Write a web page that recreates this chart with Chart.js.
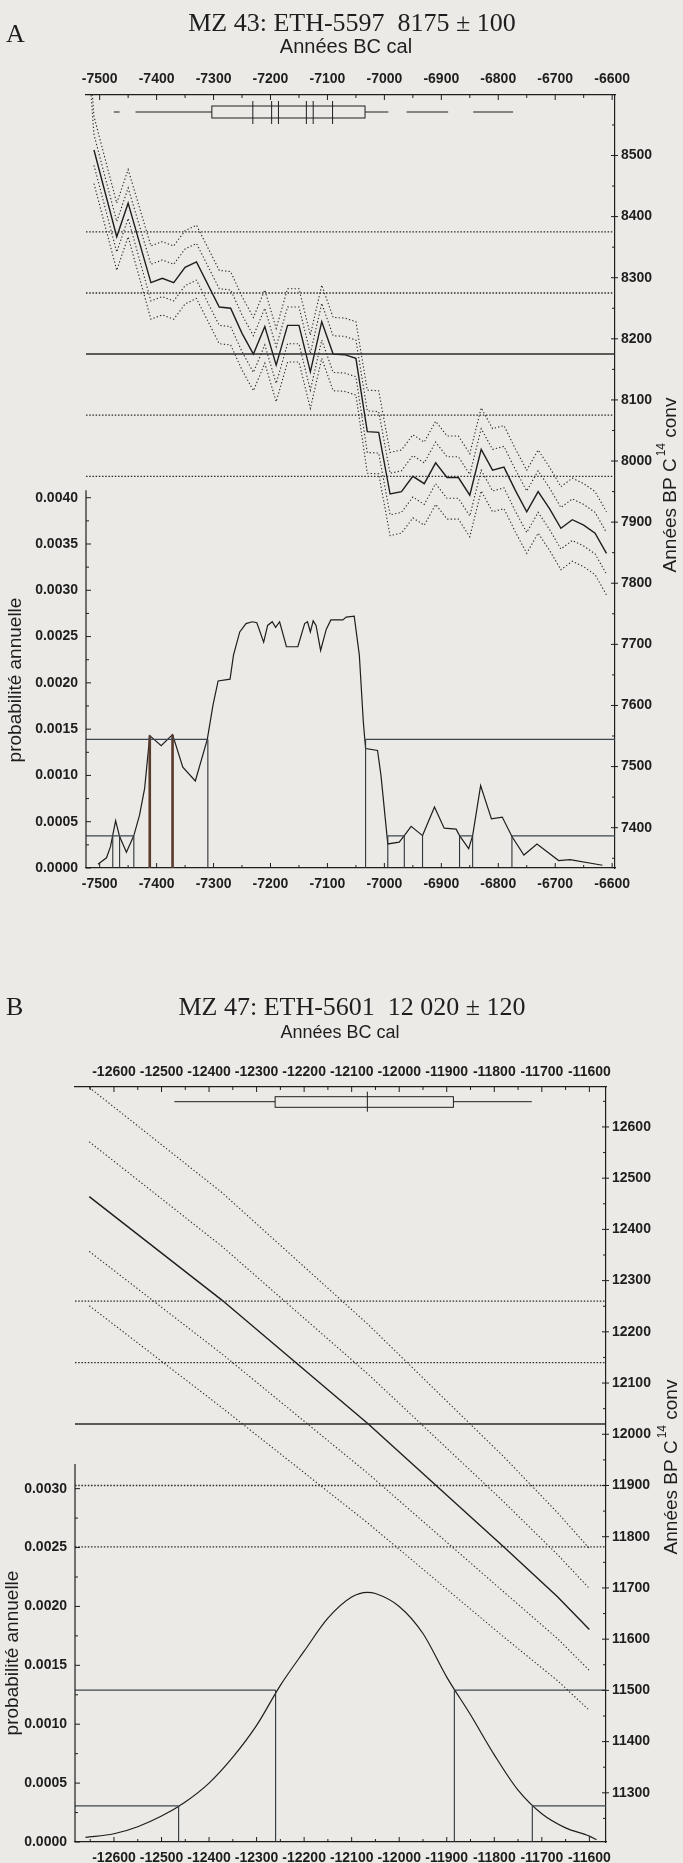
<!DOCTYPE html>
<html lang="fr">
<head>
<meta charset="utf-8">
<title>MZ 43 / MZ 47 - calibration</title>
<script src="https://cdn.jsdelivr.net/npm/chart.js@4.4.1/dist/chart.umd.min.js"></script>
<style>
  html, body { margin: 0; padding: 0; background: #ebeae6; }
  body { width: 683px; height: 1863px; position: relative; overflow: hidden; }
  canvas { position: absolute; left: 0; }
  #chartA { top: 0; }
  #chartB { top: 985px; }
</style>
</head>
<body>
<canvas id="chartA" width="683" height="900"></canvas>
<canvas id="chartB" width="683" height="878"></canvas>
<script>
// ---------- Panel A : MZ 43, ETH-5597, 8175 ± 100 ----------
const xRangeA = [-7524, -6595];
const bpRangeA = [7334, 8599];
const probMaxA = 0.00835;

// calibration curve (cal BC -> BP) and its dotted envelopes
const calA = [-7510, -7470, -7450, -7410, -7390, -7370, -7350, -7330, -7290, -7270, -7250, -7230, -7210, -7190, -7170, -7150, -7130, -7110, -7090, -7070, -7050, -7030, -7010, -6990, -6970, -6950, -6930, -6910, -6890, -6870, -6850, -6830, -6810, -6790, -6770, -6750, -6730, -6710, -6690, -6670, -6650, -6630, -6610];
const bpA = [8509, 8367, 8422, 8292, 8299, 8292, 8317, 8326, 8252, 8250, 8209, 8175, 8220, 8157, 8222, 8222, 8146, 8228, 8175, 8174, 8168, 8048, 8047, 7946, 7950, 7975, 7963, 7997, 7973, 7973, 7944, 8019, 7985, 7990, 7952, 7917, 7950, 7922, 7890, 7904, 7895, 7882, 7849];
const bpAHi2 = [8564, 8422, 8477, 8352, 8359, 8352, 8377, 8386, 8312, 8310, 8269, 8235, 8280, 8217, 8282, 8282, 8206, 8288, 8235, 8234, 8228, 8116, 8115, 8014, 8018, 8043, 8031, 8065, 8041, 8041, 8012, 8087, 8053, 8058, 8020, 7985, 8018, 7990, 7958, 7972, 7963, 7950, 7917];
const bpAHi1 = [8534, 8392, 8447, 8322, 8329, 8322, 8347, 8356, 8282, 8280, 8239, 8205, 8250, 8187, 8252, 8252, 8176, 8258, 8205, 8204, 8198, 8082, 8081, 7980, 7984, 8009, 7997, 8031, 8007, 8007, 7978, 8053, 8019, 8024, 7986, 7951, 7984, 7956, 7924, 7938, 7929, 7916, 7883];
const bpALo1 = [8484, 8342, 8397, 8262, 8269, 8262, 8287, 8296, 8222, 8220, 8179, 8145, 8190, 8127, 8192, 8192, 8116, 8198, 8145, 8144, 8138, 8014, 8013, 7912, 7916, 7941, 7929, 7963, 7939, 7939, 7910, 7985, 7951, 7956, 7918, 7883, 7916, 7888, 7856, 7870, 7861, 7848, 7815];
const bpALo2 = [8454, 8312, 8367, 8232, 8239, 8232, 8257, 8266, 8192, 8190, 8149, 8115, 8160, 8097, 8162, 8162, 8086, 8168, 8115, 8114, 8108, 7980, 7979, 7878, 7882, 7907, 7895, 7929, 7905, 7905, 7876, 7951, 7917, 7922, 7884, 7849, 7882, 7854, 7822, 7836, 7827, 7814, 7781];

// the two upper envelopes come in from above the frame at the left end
const calAHiStart = -7516;
const bpAHi2Start = 8640;
const bpAHi1Start = 8610;

// measured date and its 1 / 2 sigma lines
const dateA = 8175;
const sigmaLinesA = [7975, 8075, 8275, 8375];

// annual probability
const probCalA = [-7503, -7488, -7481, -7472, -7465, -7453, -7440, -7430, -7421, -7412, -7392, -7372, -7354, -7332, -7311, -7301, -7292, -7271, -7265, -7254, -7243, -7232, -7224, -7212, -7205, -7197, -7191, -7184, -7172, -7152, -7140, -7135, -7130, -7125, -7120, -7112, -7102, -7094, -7073, -7067, -7053, -7044, -7037, -7033, -7012, -7006, -6994, -6974, -6965, -6953, -6933, -6912, -6895, -6874, -6868, -6852, -6845, -6831, -6812, -6793, -6776, -6755, -6732, -6694, -6674, -6617];
const probA = [0.00004, 0.00011, 0.00023, 0.00051, 0.00034, 0.00017, 0.00035, 0.00057, 0.00086, 0.00143, 0.00132, 0.00144, 0.00109, 0.00094, 0.00139, 0.00176, 0.00202, 0.00204, 0.0023, 0.00255, 0.00264, 0.00266, 0.00265, 0.00244, 0.00262, 0.00266, 0.0026, 0.00266, 0.00239, 0.00239, 0.00264, 0.00266, 0.00255, 0.00267, 0.00262, 0.00235, 0.00258, 0.00268, 0.00268, 0.00271, 0.00272, 0.0023, 0.00158, 0.00129, 0.00127, 0.001, 0.00026, 0.00028, 0.00035, 0.00045, 0.00035, 0.00066, 0.00043, 0.00042, 0.00035, 0.00021, 0.00035, 0.00089, 0.00053, 0.00055, 0.00034, 0.00014, 0.00026, 0.00008, 0.00009, 0.00003];

// confidence levels, the stretches below them, and the cut lines
const level1A = 0.00139;
const level2A = 0.000346;
const below1A = [[-7524, -7310], [-7033, -6595]];
const below2A = [[-7524, -7440], [-6994, -6965], [-6868, -6845], [-6776, -6595]];
const cutsA = [-7477, -7465, -7440, -7310, -7033, -6994, -6965, -6933, -6868, -6845, -6776];
const cutTopsA = [0.000346, 0.000346, 0.000346, 0.00139, 0.00139, 0.000346, 0.000346, 0.000346, 0.000346, 0.000346, 0.000346];
const peakCutsA = [-7412, -7372];
const peakTopsA = [0.00143, 0.00144];

// range bars at the top
const rangesA = [[-7475, -7465], [-7437, -6993], [-6961, -6888], [-6844, -6774]];
const boxA = [-7303, -7034];
const interceptsA = [-7231, -7198, -7186, -7137, -7125, -7091];

// ---------- Panel B : MZ 47, ETH-5601, 12 020 ± 120 ----------
const xRangeB = [-12682, -11565];
const bpRangeB = [11204, 12678];
const probMaxB = 0.00641;

const calB = [-12652, -12373, -12065, -11781, -11667, -11600];
const bpB = [12464, 12262, 12020, 11781, 11683, 11619];
const bpBHi2 = [12677, 12472, 12214, 11957, 11847, 11777];
const bpBHi1 = [12571, 12367, 12117, 11869, 11765, 11699];
const bpBLo1 = [12357, 12157, 11923, 11693, 11601, 11539];
const bpBLo2 = [12251, 12052, 11826, 11605, 11519, 11461];

const dateB = 12020;
const sigmaLinesB = [11780, 11900, 12140, 12260];

const probCalB = [-12660, -12600, -12550, -12500, -12450, -12400, -12350, -12300, -12250, -12200, -12150, -12100, -12067, -12050, -12000, -11950, -11900, -11850, -11800, -11750, -11700, -11650, -11600, -11585];
const probB = [0.00004, 0.00007, 0.00013, 0.00022, 0.00034, 0.0005, 0.00072, 0.00099, 0.00133, 0.00162, 0.0019, 0.00208, 0.00212, 0.00211, 0.002, 0.00177, 0.0014, 0.00108, 0.00074, 0.00044, 0.00024, 0.00012, 0.00005, 0.00002];

const level1B = 0.00129;
const level2B = 0.000306;
const below1B = [[-12682, -12260], [-11884, -11565]];
const below2B = [[-12682, -12464], [-11720, -11565]];
const cutsB = [-12464, -12260, -11884, -11720];
const cutTopsB = [0.000306, 0.00129, 0.00129, 0.000306];

const rangesB = [[-12473, -11721]];
const boxB = [-12261, -11886];
const interceptsB = [-12067];

// ---------- drawing ----------
const ink = '#1e1e1e';
const sans = '"Liberation Sans", Arial, sans-serif';
const serif = '"Liberation Serif", "Times New Roman", serif';
Chart.defaults.font.family = sans;
Chart.defaults.color = ink;

const pts = (xs, ys) => xs.map((x, i) => ({ x, y: ys[i] }));
const isStep = (v, st) => Math.abs(v / st - Math.round(v / st)) < 1e-6;

function stretches(pairs, level) {
  const out = [];
  pairs.forEach(([a, b]) => out.push({ x: a, y: level }, { x: b, y: level }, { x: b, y: null }));
  return out;
}
function cuts(xs, tops) {
  const out = [];
  xs.forEach((x, i) => out.push({ x, y: 0 }, { x, y: tops[i] }, { x, y: null }));
  return out;
}
function line(data, yAxisID, style) {
  return Object.assign({
    data, yAxisID, xAxisID: 'x', borderColor: ink, borderWidth: 1.2,
    pointRadius: 0, fill: false, tension: 0, spanGaps: false
  }, style);
}

const dotted = { borderDash: [1.3, 2.2], borderWidth: 1.1, borderColor: '#2a2a2a' };

// inward tick marks, partial probability axis, range bars and all the text
const decor = {
  id: 'decor',
  afterDraw(chart, args, o) {
    const { ctx, chartArea: a, scales: s } = chart;
    const mark = (x1, y1, x2, y2) => { ctx.beginPath(); ctx.moveTo(x1, y1); ctx.lineTo(x2, y2); ctx.stroke(); };
    ctx.save();
    ctx.strokeStyle = ink;
    ctx.lineWidth = 1;

    s.x.ticks.forEach(t => {
      if (t.value % 50 !== 0) return;
      const px = s.x.getPixelForValue(t.value);
      const len = t.value % 100 === 0 ? 5 : 3;
      mark(px, a.bottom, px, a.bottom - len);
      mark(px, a.top, px, a.top + len);
    });
    s.y.ticks.forEach(t => {
      if (t.value % 50 !== 0) return;
      const py = s.y.getPixelForValue(t.value);
      const major = t.value % 100 === 0;
      mark(a.right - (major ? 4 : 3), py, a.right + (major ? 3 : 0), py);
    });

    ctx.lineWidth = 1.2;
    mark(a.left, s.yP.getPixelForValue(0), a.left, s.yP.getPixelForValue(o.probTop));
    ctx.lineWidth = 1;
    s.yP.ticks.forEach(t => {
      if (t.value > o.probTop || !isStep(t.value, 0.00025)) return;
      const py = s.yP.getPixelForValue(t.value);
      mark(a.left, py, a.left + (isStep(t.value, 0.0005) ? 5 : 3), py);
    });

    // range bars
    const b = o.bars;
    o.ranges.forEach(([l, r]) => mark(s.x.getPixelForValue(l), a.top + b.w, s.x.getPixelForValue(r), a.top + b.w));
    const L = s.x.getPixelForValue(o.box[0]);
    const R = s.x.getPixelForValue(o.box[1]);
    ctx.fillStyle = '#ebeae6';
    ctx.fillRect(L, a.top + b.b0, R - L, b.b1 - b.b0);
    ctx.strokeRect(L, a.top + b.b0, R - L, b.b1 - b.b0);
    o.intercepts.forEach(v => {
      const px = s.x.getPixelForValue(v);
      mark(px, a.top + b.m0, px, a.top + b.m1);
    });

    // text
    const t = o.text;
    ctx.fillStyle = ink;
    ctx.textBaseline = 'alphabetic';
    ctx.font = '26px ' + serif;
    ctx.textAlign = 'left';
    ctx.fillText(t.letter, t.letterX, t.letterY);
    ctx.textAlign = 'center';
    ctx.fillText(t.heading, t.headX, t.headY);

    ctx.font = t.calSize + 'px ' + sans;
    ctx.textBaseline = 'middle';
    ctx.fillText('Années BC cal', t.calX, t.calY);

    ctx.save();
    ctx.translate(t.probX, t.probY);
    ctx.rotate(-Math.PI / 2);
    ctx.font = '19px ' + sans;
    ctx.fillText('probabilité annuelle', 0, 0);
    ctx.restore();

    ctx.save();
    ctx.translate(t.bpX, t.bpY);
    ctx.rotate(-Math.PI / 2);
    ctx.textAlign = 'left';
    const big = '19px ' + sans, small = '12px ' + sans;
    ctx.font = big;
    const w1 = ctx.measureText('Années BP C').width;
    const w3 = ctx.measureText(' conv').width;
    ctx.font = small;
    const w2 = ctx.measureText('14').width + 2;
    const x0 = -(w1 + w2 + w3) / 2;
    ctx.font = big;
    ctx.fillText('Années BP C', x0, 0);
    ctx.font = small;
    ctx.fillText('14', x0 + w1 + 2, -9);
    ctx.font = big;
    ctx.fillText(' conv', x0 + w1 + w2, 0);
    ctx.restore();

    ctx.restore();
  }
};

function panel(id, d, L) {
  const edge = d.xRange;
  const refs = d.sigmaLines.map(v => line([{ x: edge[0], y: v }, { x: edge[1], y: v }], 'y',
    { borderDash: [1.5, 1.7], borderWidth: 1.3, borderColor: '#2a2a2a' }));
  refs.push(line([{ x: edge[0], y: d.date }, { x: edge[1], y: d.date }], 'y', { borderWidth: 1.5, borderColor: '#2a2a2a' }));

  const hi2 = pts(d.cal, d.hi2), hi1 = pts(d.cal, d.hi1);
  if (d.hiStart) {
    hi2.unshift({ x: d.hiStart.x, y: d.hiStart.y2 });
    hi1.unshift({ x: d.hiStart.x, y: d.hiStart.y1 });
  }

  const datasets = refs.concat([
    line(hi2, 'y', dotted),
    line(hi1, 'y', dotted),
    line(pts(d.cal, d.lo1), 'y', dotted),
    line(pts(d.cal, d.lo2), 'y', dotted),
    line(pts(d.cal, d.bp), 'y', { borderWidth: 1.4 }),
    line(stretches(d.below1, d.level1), 'yP', { borderColor: '#3c4650', borderWidth: 1.3 }),
    line(stretches(d.below2, d.level2), 'yP', { borderColor: '#3c4650', borderWidth: 1.3 }),
    line(cuts(d.cuts, d.cutTops), 'yP', { borderColor: '#2f3438', borderWidth: 1.1 }),
    line(cuts(d.peakCuts, d.peakTops), 'yP', { borderColor: '#5a3a2b', borderWidth: 2.6 }),
    line(pts(d.probCal, d.prob), 'yP', d.smooth ? { borderWidth: 1.2, cubicInterpolationMode: 'monotone' } : { borderWidth: 1.2 })
  ]);

  const tickFont = { size: 14, weight: 'bold', family: sans };
  const calTicks = {
    stepSize: 50, includeBounds: false, autoSkip: false, maxRotation: 0, minRotation: 0,
    font: tickFont, color: ink,
    callback: v => (v % 100 === 0 ? String(v) : '')
  };
  const bare = { display: false, drawTicks: false };

  new Chart(document.getElementById(id), {
    type: 'line',
    data: { datasets },
    plugins: [decor],
    options: {
      responsive: false,
      animation: false,
      events: [],
      layout: { autoPadding: false, padding: 0 },
      plugins: {
        legend: { display: false },
        tooltip: { enabled: false },
        decor: {
          probTop: d.probTop,
          ranges: d.ranges, box: d.box, intercepts: d.intercepts,
          bars: L.bars, text: L.text
        }
      },
      scales: {
        x: {
          type: 'linear', position: 'bottom', min: edge[0], max: edge[1],
          ticks: Object.assign({ padding: L.padBottom }, calTicks),
          grid: bare, border: { display: true, color: ink, width: 1.2 },
          afterFit: s => { s.height = L.bottom; }
        },
        x2: {
          type: 'linear', position: 'top', min: edge[0], max: edge[1],
          ticks: Object.assign({ padding: L.padTop }, calTicks),
          grid: bare, border: { display: true, color: ink, width: 1.2 },
          afterFit: s => { s.height = L.top; }
        },
        y: {
          type: 'linear', position: 'right', min: d.bpRange[0], max: d.bpRange[1],
          ticks: {
            stepSize: 50, includeBounds: false, autoSkip: false, padding: 6, font: tickFont, color: ink,
            callback: v => (v % 100 === 0 ? String(v) : '')
          },
          grid: bare, border: { display: true, color: ink, width: 1.2 },
          afterFit: s => { s.width = L.right; }
        },
        yP: {
          type: 'linear', position: 'left', min: 0, max: d.probMax,
          ticks: {
            stepSize: 0.00025, includeBounds: false, autoSkip: false, padding: L.padLeft, font: tickFont, color: ink,
            callback: v => (v <= d.probLabelTop + 1e-9 && isStep(v, 0.0005) ? v.toFixed(4) : '')
          },
          grid: bare, border: { display: false },
          afterFit: s => { s.width = L.left; }
        }
      }
    }
  });
}

panel('chartA', {
  xRange: xRangeA, bpRange: bpRangeA, probMax: probMaxA, probTop: 0.00408, probLabelTop: 0.004,
  cal: calA, bp: bpA, hi2: bpAHi2, hi1: bpAHi1, lo1: bpALo1, lo2: bpALo2,
  hiStart: { x: calAHiStart, y2: bpAHi2Start, y1: bpAHi1Start },
  date: dateA, sigmaLines: sigmaLinesA,
  probCal: probCalA, prob: probA,
  level1: level1A, level2: level2A, below1: below1A, below2: below2A,
  cuts: cutsA, cutTops: cutTopsA, peakCuts: peakCutsA, peakTops: peakTopsA,
  ranges: rangesA, box: boxA, intercepts: interceptsA
}, {
  left: 86, right: 68, top: 95, bottom: 32,
  padTop: 7, padBottom: 8, padLeft: 8,
  bars: { w: 17, b0: 11, b1: 23, m0: 6, m1: 29 },
  text: {
    letter: 'A', letterX: 6, letterY: 42,
    heading: 'MZ 43: ETH-5597  8175 ± 100', headX: 352, headY: 31,
    calSize: 20, calX: 346, calY: 47, probX: 16, probY: 680, bpX: 671, bpY: 485
  }
});

panel('chartB', {
  xRange: xRangeB, bpRange: bpRangeB, probMax: probMaxB, probTop: 0.00321, probLabelTop: 0.003,
  cal: calB, bp: bpB, hi2: bpBHi2, hi1: bpBHi1, lo1: bpBLo1, lo2: bpBLo2,
  date: dateB, sigmaLines: sigmaLinesB,
  probCal: probCalB, prob: probB, smooth: true,
  level1: level1B, level2: level2B, below1: below1B, below2: below2B,
  cuts: cutsB, cutTops: cutTopsB, peakCuts: [], peakTops: [],
  ranges: rangesB, box: boxB, intercepts: interceptsB
}, {
  left: 75, right: 77, top: 102, bottom: 21,
  padTop: 6, padBottom: 8, padLeft: 8,
  bars: { w: 14.7, b0: 9.7, b1: 20.3, m0: 4.7, m1: 24.7 },
  text: {
    letter: 'B', letterX: 6, letterY: 30,
    heading: 'MZ 47: ETH-5601  12 020 ± 120', headX: 352, headY: 30,
    calSize: 18, calX: 340, calY: 48, probX: 13, probY: 668, bpX: 672, bpY: 482
  }
});
</script>
</body>
</html>
